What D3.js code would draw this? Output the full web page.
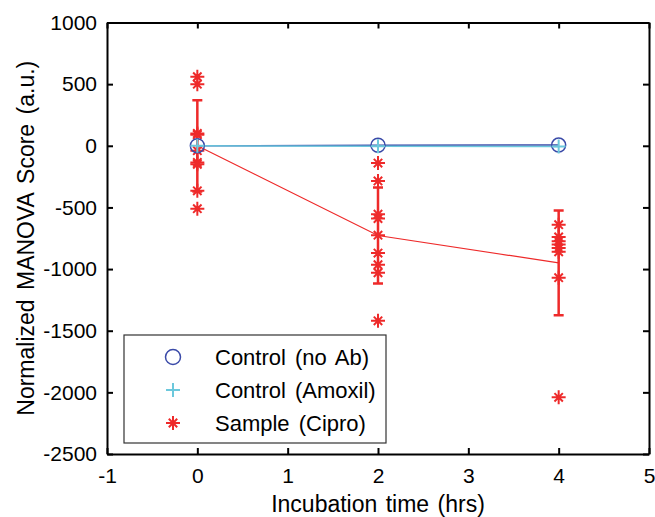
<!DOCTYPE html>
<html>
<head>
<meta charset="utf-8">
<script src="https://cdn.jsdelivr.net/npm/d3@7"></script>
<style>
  body { margin: 0; background: #fff; }
  text { font-family: 'Liberation Sans', Arial, sans-serif; fill: #000; }
  .axis path, .axis line { stroke: #000; stroke-width: 2; }
  .axis text { font-size: 21px; }
</style>
</head>
<body>
<div id="chart"></div>
<script>
// Chart data
let times = [0, 2, 4];
let controlNoAb = [0, 4, 6];
let controlAmoxil = [0, -4, -6];
let sampleMean = [0, -728, -950];
let sampleErr = [370, 390, 425];
let samplePoints0 = [560, 500, 100, 90, -40, -135, -150, -365, -510];
let samplePoints2 = [-140, -285, -555, -590, -725, -870, -965, -1030, -1420];
let samplePoints4 = [-640, -740, -775, -800, -830, -860, -1070, -2040];
let xTicks = [-1, 0, 1, 2, 3, 4, 5];
let yTicks = [1000, 500, 0, -500, -1000, -1500, -2000, -2500];
let legendLabels = ['Control (no Ab)', 'Control (Amoxil)', 'Sample (Cipro)'];

let blueColor = '#3a4aa8';
let cyanColor = '#6cc8dc';
let redColor = '#ee2a2a';

let margin = {top: 22.5, right: 6, bottom: 63, left: 107},
    width = 655 - margin.left - margin.right,
    height = 517 - margin.top - margin.bottom;

let scX = d3.scaleLinear().domain([-1, 5]).range([0, width]);
let scY = d3.scaleLinear().domain([-2500, 1000]).range([height, 0]);

let svg = d3.select('#chart')
    .append('svg')
        .attr('width', 655)
        .attr('height', 517)
    .append('g')
        .attr('transform', `translate(${margin.left},${margin.top})`);

// Axes (MATLAB-style box with inward ticks)
let tickLen = 6;
let plainFmt = d => String(d);  // keep ASCII hyphen, no thousands comma
svg.append('g')
    .attr('class', 'axis x-axis')
    .attr('transform', `translate(0,${height})`)
    .call(d3.axisBottom(scX).tickValues(xTicks).tickSizeInner(-tickLen).tickSizeOuter(0).tickPadding(14).tickFormat(plainFmt))
    .call(g => g.selectAll('text').attr('dy', '0.71em'));
svg.append('g')
    .attr('class', 'axis x-axis-top')
    .call(d3.axisTop(scX).tickValues(xTicks).tickSizeInner(-tickLen).tickSizeOuter(0).tickFormat(''));
svg.append('g')
    .attr('class', 'axis y-axis')
    .call(d3.axisLeft(scY).tickValues(yTicks).tickSizeInner(-tickLen).tickSizeOuter(0).tickPadding(10).tickFormat(plainFmt));
svg.append('g')
    .attr('class', 'axis y-axis-right')
    .attr('transform', `translate(${width},0)`)
    .call(d3.axisRight(scY).tickValues(yTicks).tickSizeInner(-tickLen).tickSizeOuter(0).tickFormat(''));

// Axis titles
svg.append('text')
    .attr('text-anchor', 'middle')
    .attr('x', scX(2))
    .attr('y', height + 58)
    .style('font-size', '23px')
    .style('word-spacing', '2px')
    .text('Incubation time (hrs)');
svg.append('text')
    .attr('text-anchor', 'middle')
    .attr('transform', 'rotate(-90)')
    .attr('x', -(height / 2))
    .attr('y', -margin.left + 34)
    .style('font-size', '23px')
    .style('word-spacing', '3px')
    .text('Normalized MANOVA Score (a.u.)');

let line = d3.line()
    .x((d, i) => scX(times[i]))
    .y(d => scY(d));

// Star marker (MATLAB '*')
function star(g, cx, cy, s) {
    let d = s * 0.6;
    g.append('path')
        .attr('d', `M${cx - s},${cy}H${cx + s}M${cx},${cy - s}V${cy + s}` +
                   `M${cx - d},${cy - d}L${cx + d},${cy + d}M${cx - d},${cy + d}L${cx + d},${cy - d}`)
        .attr('stroke', redColor)
        .attr('stroke-width', 2)
        .attr('fill', 'none');
}

// Sample (Cipro) mean line
svg.append('path')
    .attr('d', line(sampleMean))
    .attr('fill', 'none')
    .attr('stroke', redColor)
    .attr('stroke-width', 1.2);

// Error bars
let capW = 5;
sampleMean.forEach((m, i) => {
    let x = scX(times[i]);
    let y1 = scY(m + sampleErr[i]), y2 = scY(m - sampleErr[i]);
    svg.append('path')
        .attr('d', `M${x},${y1}V${y2}M${x - capW},${y1}H${x + capW}M${x - capW},${y2}H${x + capW}`)
        .attr('stroke', redColor)
        .attr('stroke-width', 2.5)
        .attr('fill', 'none');
});

// Individual sample points
[samplePoints0, samplePoints2, samplePoints4].forEach((pts, i) => {
    pts.forEach(v => star(svg, scX(times[i]), scY(v), 7));
});

// Control lines
svg.append('path')
    .attr('d', line(controlNoAb))
    .attr('fill', 'none')
    .attr('stroke', blueColor)
    .attr('stroke-width', 1.5);
svg.append('path')
    .attr('d', line(controlAmoxil))
    .attr('fill', 'none')
    .attr('stroke', cyanColor)
    .attr('stroke-width', 1.5);

svg.selectAll('circle.noab')
    .data(controlNoAb)
    .enter()
    .append('circle')
        .attr('class', 'noab')
        .attr('cx', (d, i) => scX(times[i]))
        .attr('cy', d => scY(d))
        .attr('r', 7)
        .attr('fill', 'none')
        .attr('stroke', blueColor)
        .attr('stroke-width', 1.5);
svg.selectAll('path.amox')
    .data(controlAmoxil)
    .enter()
    .append('path')
        .attr('class', 'amox')
        .attr('d', (d, i) => {
            let x = scX(times[i]), y = scY(d);
            return `M${x - 7},${y}H${x + 7}M${x},${y - 7}V${y + 7}`;
        })
        .attr('stroke', cyanColor)
        .attr('stroke-width', 2);

// Legend
let lg = svg.append('g')
    .attr('transform', `translate(${124 - margin.left},${335 - margin.top})`);
lg.append('rect')
    .attr('width', 262)
    .attr('height', 108)
    .attr('fill', '#fff')
    .attr('stroke', '#333')
    .attr('stroke-width', 1.2);
let rowY = [22, 55, 88];
lg.append('circle')
    .attr('cx', 49).attr('cy', rowY[0]).attr('r', 7.5)
    .attr('fill', 'none').attr('stroke', blueColor).attr('stroke-width', 1.5);
lg.append('path')
    .attr('d', `M42,${rowY[1]}H56M49,${rowY[1] - 7}V${rowY[1] + 7}`)
    .attr('stroke', cyanColor).attr('stroke-width', 2);
star(lg, 49, rowY[2], 7);
legendLabels.forEach((t, i) => {
    lg.append('text')
        .attr('x', 91)
        .attr('y', rowY[i])
        .attr('dy', '0.36em')
        .style('font-size', '22px')
        .style('word-spacing', '3px')
        .text(t);
});
</script>
</body>
</html>
